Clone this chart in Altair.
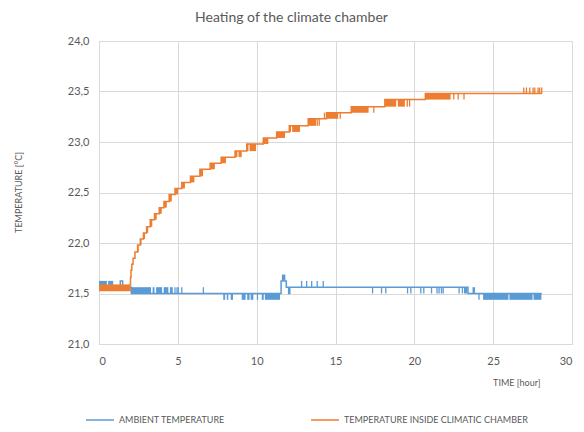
import altair as alt
import pandas as pd

S_AMB = "AMBIENT TEMPERATURE"
S_IN = "TEMPERATURE INSIDE CLIMATIC CHAMBER"
BLUE = "#5B9BD5"
ORANGE = "#ED7D31"

# ---------------- inside chamber (orange) ----------------
orange_t = [0.0, 1.97, 2.00, 2.03, 2.08, 2.16, 2.28, 2.45, 2.62, 2.82, 3.02,
            3.25, 3.52, 3.82, 4.12, 4.45, 4.82, 5.25, 5.8, 6.4, 7.05,
            7.75, 8.63, 9.37, 10.42, 11.27, 12.07, 13.27, 14.43, 16.0, 18.13,
            20.7, 28.1]
orange_v = [21.53, 21.59, 21.66, 21.73, 21.79, 21.85, 21.91, 21.98, 22.04, 22.10, 22.16,
            22.23, 22.29, 22.35, 22.41, 22.48, 22.54, 22.60, 22.66, 22.73, 22.79,
            22.85, 22.91, 22.98, 23.04, 23.10, 23.16, 23.23, 23.29, 23.35, 23.42,
            23.48, 23.48]
# dense flicker blocks
ob_t0 = [0.0, 2.45, 2.62, 2.82, 3.02, 3.25, 3.52, 3.82, 4.12, 4.45, 4.82, 5.25, 5.8, 6.4,
         7.05, 7.75, 8.63, 8.85, 9.37, 9.55, 10.42, 11.27, 12.07, 12.25, 13.27, 14.43,
         16.0, 18.13, 18.95, 20.7]
ob_t1 = [1.95, 2.52, 2.70, 2.92, 3.12, 3.38, 3.66, 3.98, 4.30, 4.62, 5.02, 5.45, 6.05, 6.6,
         7.35, 8.05, 8.78, 9.05, 9.48, 9.96, 10.74, 11.8, 12.18, 12.75, 13.76, 15.17,
         17.1, 18.85, 19.4, 22.3]
ob_lo = [21.53, 21.91, 21.98, 22.04, 22.10, 22.16, 22.23, 22.29, 22.35, 22.41, 22.48, 22.54,
         22.60, 22.66, 22.73, 22.79, 22.85, 22.85, 22.91, 22.91, 22.98, 23.04, 23.10, 23.10,
         23.16, 23.23, 23.29, 23.35, 23.35, 23.42]
ob_hi = [21.59, 21.98, 22.04, 22.10, 22.16, 22.23, 22.29, 22.35, 22.41, 22.48, 22.54, 22.60,
         22.66, 22.73, 22.79, 22.85, 22.91, 22.91, 22.98, 22.98, 23.04, 23.10, 23.16, 23.16,
         23.23, 23.29, 23.35, 23.42, 23.42, 23.48]
# isolated flicker ticks
ot_t = [13.84, 13.97, 14.3, 15.3, 17.43, 19.55, 19.7, 22.5, 22.78, 23.15,
        26.94, 27.11, 27.32, 27.53, 27.64, 27.85, 27.95, 28.08]
ot_lo = [23.16, 23.16, 23.23, 23.23, 23.29, 23.35, 23.35, 23.42, 23.42, 23.42,
         23.48, 23.48, 23.48, 23.48, 23.48, 23.48, 23.48, 23.48]
ot_hi = [23.23, 23.23, 23.29, 23.29, 23.35, 23.42, 23.42, 23.48, 23.48, 23.48,
         23.54, 23.54, 23.54, 23.54, 23.54, 23.54, 23.54, 23.54]

# ---------------- ambient (blue) ----------------
blue_t = [0.0, 1.35, 1.5, 2.05, 11.55, 11.88, 12.03, 12.1, 23.4, 28.08]
blue_v = [21.5625, 21.625, 21.5625, 21.5, 21.625, 21.5625, 21.5, 21.5625, 21.5, 21.5]
bb_t0 = [0.0, 0.58, 2.08, 3.4, 3.62, 4.1, 4.5, 4.78, 7.88, 8.1, 8.35, 9.05, 9.4, 9.62,
         10.32, 10.52, 11.6, 23.15, 23.69, 24.36, 26.03, 27.56]
bb_t1 = [0.5, 0.9, 3.3, 3.52, 4.0, 4.4, 4.68, 4.86, 8.0, 8.2, 8.5, 9.3, 9.55, 9.79,
         10.45, 11.48, 11.82, 23.35, 23.85, 25.97, 27.5, 28.06]
bb_lo = [21.5625, 21.5625, 21.5, 21.5, 21.5, 21.5, 21.5, 21.5, 21.4375, 21.4375, 21.4375,
         21.4375, 21.4375, 21.4375, 21.4375, 21.4375, 21.625, 21.5, 21.5, 21.4375, 21.4375,
         21.4375]
bb_hi = [21.625, 21.625, 21.5625, 21.5625, 21.5625, 21.5625, 21.5625, 21.5625, 21.5, 21.5,
         21.5, 21.5, 21.5, 21.5, 21.5, 21.5, 21.6875, 21.5625, 21.5625, 21.5, 21.5, 21.5]
bt_t = [4.95, 5.03, 5.25, 6.62, 10.05, 24.1, 12.85, 13.17, 13.49, 13.84, 14.22,
        17.35, 17.92, 18.19, 19.57, 19.78, 20.41, 20.6, 21.09, 21.44, 21.57, 21.72, 21.83,
        22.84, 23.05]
bt_lo = [21.5, 21.5, 21.5, 21.5, 21.4375, 21.4375, 21.5625, 21.5625, 21.5625, 21.5625, 21.5625,
         21.5, 21.5, 21.5, 21.5, 21.5, 21.5, 21.5, 21.5, 21.5, 21.5, 21.5, 21.5, 21.5, 21.5]
bt_hi = [21.5625, 21.5625, 21.5625, 21.5625, 21.5, 21.5, 21.625, 21.625, 21.625, 21.625, 21.625,
         21.5625, 21.5625, 21.5625, 21.5625, 21.5625, 21.5625, 21.5625, 21.5625, 21.5625,
         21.5625, 21.5625, 21.5625, 21.5625, 21.5625]

x_ticks = [0, 5, 10, 15, 20, 25, 30]
y_ticks = [21.0, 21.5, 22.0, 22.5, 23.0, 23.5, 24.0]

line_b = pd.DataFrame({"series": S_AMB, "t": blue_t, "v": blue_v})
line_o = pd.DataFrame({"series": S_IN, "t": orange_t, "v": orange_v})
band_b = pd.DataFrame({"series": S_AMB, "t0": bb_t0, "t1": bb_t1, "lo": bb_lo, "hi": bb_hi})
band_o = pd.DataFrame({"series": S_IN, "t0": ob_t0, "t1": ob_t1, "lo": ob_lo, "hi": ob_hi})
tick_b = pd.DataFrame({"series": S_AMB, "t": bt_t, "lo": bt_lo, "hi": bt_hi})
tick_o = pd.DataFrame({"series": S_IN, "t": ot_t, "lo": ot_lo, "hi": ot_hi})

xs = alt.Scale(domain=[0, 30], nice=False)
ys = alt.Scale(domain=[21, 24], nice=False)
cs = alt.Scale(domain=[S_AMB, S_IN], range=[BLUE, ORANGE])

x_axis = alt.Axis(values=x_ticks, title="TIME [hour]", labelPadding=11,
                  titleX=441, titleY=38, titleAlign="right", titleBaseline="middle")
y_axis = alt.Axis(values=y_ticks, title="TEMPERATURE [°C]", labelPadding=10,
                  labelExpr="replace(format(datum.value, '.1f'), '.', ',')",
                  titleX=-81, titleY=151, titleAngle=-90, titleAlign="center",
                  titleBaseline="middle")

legend = alt.Legend(title=None, orient="none", legendX=-14, legendY=372,
                    direction="horizontal", symbolType="stroke", symbolSize=784,
                    symbolStrokeWidth=1.5, labelFont="Lato", labelFontSize=9,
                    labelColor="#595959", columnPadding=85, labelOffset=4,
                    labelLimit=400, clipHeight=14)


def line_layer(df):
    return alt.Chart(df).mark_line(interpolate="step-after", strokeWidth=1.5).encode(
        x=alt.X("t:Q", scale=xs, axis=x_axis),
        y=alt.Y("v:Q", scale=ys, axis=y_axis),
        color=alt.Color("series:N", scale=cs, legend=legend),
        order="t:Q",
    )


def band_layer(df):
    return alt.Chart(df).mark_rect().encode(
        x="t0:Q", x2="t1:Q", y="lo:Q", y2="hi:Q",
        color=alt.Color("series:N", scale=cs, legend=None),
    )


def tick_layer(df):
    return alt.Chart(df).mark_rule(strokeWidth=1.3).encode(
        x="t:Q", y="lo:Q", y2="hi:Q",
        color=alt.Color("series:N", scale=cs, legend=None),
    )


chart = alt.layer(
    line_layer(line_b), band_layer(band_b), tick_layer(tick_b),
    line_layer(line_o), band_layer(band_o), tick_layer(tick_o),
).properties(
    width=473, height=303,
    autosize=alt.AutoSizeParams(type="none"),
    padding={"left": 91, "top": 33, "right": 4, "bottom": 80},
    title=alt.Title("Heating of the climate chamber", font="Lato", fontSize=14,
                    fontWeight="normal", color="#595959", offset=10, dx=-44),
).configure_view(stroke=None).configure_axis(
    gridColor="#D9D9D9", domainColor="#D9D9D9", ticks=False,
    labelColor="#595959", labelFont="Lato", labelFontSize=11,
    titleColor="#595959", titleFont="Lato", titleFontSize=9, titleFontWeight="normal",
)

chart.save("out.html", embed_options={"renderer": "svg", "actions": False})
